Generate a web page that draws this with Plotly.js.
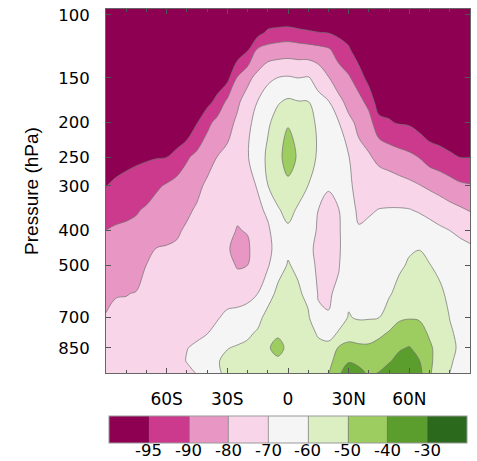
<!DOCTYPE html>
<html>
<head>
<meta charset="utf-8">
<script src="https://cdn.plot.ly/plotly-3.0.1.min.js"></script>
<style>html,body{margin:0;padding:0;background:#fff;}</style>
</head>
<body>
<div id="chart" style="width:477px;height:461px;"></div>
<script>
// Latitudes (deg, negative = S)
const lats = [-90,-85,-80,-75,-70,-65,-60,-55,-50,-45,-40,-35,-30,-25,-20,-15,-10,-5,0,5,10,15,20,25,30,35,40,45,50,55,60,65,70,75,80,85,90];
// Pressure levels (hPa)
const pressures = [100,112,125,150,175,200,250,300,350,400,450,500,600,700,775,850,925,1000];
// Vertical profiles, one per latitude (values at each pressure level above)
const profiles = [
 [-105,-104,-103,-101.4,-100,-98.8,-96.8,-95.1,-92.4,-89.9,-87.6,-85.6,-82,-79.5,-78.5,-77.6,-76.8,-76],
 [-105,-104,-103,-101.2,-99.8,-98.5,-96.4,-94.4,-91.5,-88.8,-86.4,-84.2,-80.3,-78.7,-77.8,-77,-76.2,-75.5],
 [-105,-104,-102.9,-101.1,-99.6,-98.3,-96.1,-93.8,-91,-88.4,-86,-83.9,-80.2,-78.5,-77.5,-76.6,-75.8,-75],
 [-105,-103.9,-102.8,-100.9,-99.4,-98,-95.8,-93.1,-90.4,-87.8,-85.4,-83.3,-79.7,-78.1,-77.2,-76.2,-75.3,-74.5],
 [-105,-103.8,-102.7,-100.8,-99.2,-97.8,-95.5,-92.2,-88.9,-85.4,-82.5,-79.9,-78.3,-77,-76.2,-75.4,-74.7,-74],
 [-105,-103.8,-102.7,-100.7,-99,-97.6,-95.2,-90.7,-86.4,-82.5,-79.8,-79,-77.5,-76.3,-75.5,-74.7,-74.1,-73.5],
 [-105,-103.8,-102.6,-100.6,-98.9,-97.4,-95,-89,-85.1,-81.6,-79.6,-78.7,-77.2,-75.9,-75.1,-74.3,-73.6,-73],
 [-104,-102.8,-101.7,-99.7,-99,-99.5,-93.5,-86.5,-83.9,-80.9,-79.1,-77.9,-75.8,-74,-72.8,-71.6,-71.5,-72],
 [-103,-101.9,-100.8,-99.5,-99.5,-99.5,-90.5,-85.1,-81.3,-79,-77.7,-76.6,-74.4,-72.7,-71.6,-70.1,-69.8,-71],
 [-103,-101.8,-100.6,-98.5,-96.7,-95.2,-87.4,-82,-79.1,-77.7,-76.5,-75.3,-73.3,-71.7,-70.6,-69.5,-68.8,-69.8],
 [-102,-100.7,-99.5,-97.4,-96.5,-91.3,-83.5,-78.5,-77.7,-76.4,-75.3,-74.3,-72.5,-71,-70.1,-68.6,-67.3,-66],
 [-101.3,-100,-98.8,-98,-93.6,-87,-79.8,-78.1,-76.7,-75.5,-74.5,-73.6,-71.9,-70.5,-68.2,-63.6,-60.5,-62],
 [-102,-100.3,-98.7,-96.5,-87.75,-82.5,-78.3,-76.3,-77.2,-78.1,-79,-76.75,-72.7,-68.6,-64.3,-60.3,-58.4,-57],
 [-101,-99.7,-98.5,-89,-81.3,-78.6,-75.7,-76.7,-78.6,-80.4,-83,-80.9,-73.9,-67.1,-62.9,-59.3,-57.6,-56],
 [-100.3,-97.8,-95.7,-82.2,-76.3,-72,-70.5,-73.6,-76.7,-79.5,-81.4,-80,-72.75,-65.9,-61.25,-58.5,-56.7,-55],
 [-99.5,-96.9,-88.75,-77.3,-69.7,-66.9,-65.5,-69.2,-72.25,-74.9,-75,-73.2,-70,-62.5,-59,-56.7,-54.8,-53],
 [-99,-94.1,-86.4,-71.7,-65.7,-61.4,-58,-60.1,-68.1,-71.6,-72.6,-71,-63.7,-57.1,-53.8,-50.5,-51.5,-53],
 [-99.5,-93.2,-85.5,-69.8,-60.8,-56.3,-52.1,-56.7,-60.6,-64.4,-66.3,-63.3,-58,-53.5,-50.7,-48.5,-50.8,-54],
 [-99.5,-92.85,-85,-69,-58.5,-50.5,-47,-51.5,-57.9,-61.1,-61.1,-59.5,-56.5,-54.1,-52.5,-51,-52.4,-54],
 [-100,-93.6,-85.5,-70,-59.6,-55.6,-50.8,-57,-60.8,-63,-63.1,-61.5,-58.8,-56.6,-55.3,-54,-54.5,-55],
 [-100,-94.3,-86,-69.3,-59.75,-57.1,-56.9,-60.1,-63.1,-65.7,-67.9,-66,-62.1,-58.9,-56.9,-55,-55,-55],
 [-100,-94.9,-87.1,-73.4,-67.3,-61.5,-61,-66.7,-70,-71.2,-72.2,-72,-70.6,-68.5,-61,-57.7,-55.3,-53],
 [-100,-95.2,-88.9,-79.5,-69.4,-67.2,-66.2,-69.6,-71.3,-72.7,-73.9,-73,-71.1,-69.5,-62.6,-57.8,-53.75,-50.5],
 [-100,-96.4,-91.9,-85.8,-76.9,-69.5,-64.5,-67.5,-70.2,-71,-71.35,-70.75,-68.1,-63,-59.3,-49.3,-45,-41],
 [-99,-97.5,-94.3,-88.8,-83.1,-77.6,-69.5,-67.7,-66.2,-65,-63.9,-63,-61.3,-59.6,-53.8,-47.4,-40.5,-37],
 [-100,-99.1,-98.2,-92.3,-87,-82.1,-77.3,-74.2,-71.6,-69.3,-67.4,-65.6,-62.8,-60.7,-55.9,-47.7,-41.8,-38],
 [-101,-99.6,-98.2,-97,-91.4,-86.3,-78.9,-74.5,-70.9,-68.3,-66.3,-64.6,-62.3,-60.6,-55.3,-48,-44.4,-41],
 [-102,-100.9,-99.8,-97.7,-98,-93.2,-82.3,-75,-69.8,-67.6,-65.7,-64,-61.9,-60.1,-51.9,-46.7,-43.1,-39.7],
 [-102,-101,-100,-98,-96.3,-94.7,-84.2,-75.4,-69.5,-67.1,-65.1,-63.7,-61.1,-55,-49.1,-44.7,-40.9,-36],
 [-103,-101.9,-100.8,-98.7,-96.8,-95.3,-86.2,-76.5,-69.4,-66.2,-63.5,-61.7,-56.7,-51.2,-46.4,-41.1,-37.3,-34],
 [-103,-102,-101,-99,-97,-95.6,-87.9,-77.8,-69.7,-64.1,-61.1,-58.8,-54.3,-50.5,-45.7,-39.5,-36.4,-33],
 [-103,-102,-101,-99.5,-97.6,-97,-90.1,-79.6,-71.1,-64.6,-60.2,-58,-54,-50.7,-47.3,-43.2,-39.8,-37],
 [-104,-103,-102,-100,-98,-98.5,-92.1,-81.7,-72.9,-66.5,-62.4,-59.7,-55.9,-52.8,-50.9,-48.9,-48.3,-49],
 [-104,-103,-102,-100.5,-98.5,-99,-93,-83.7,-74.9,-68.4,-64.2,-62.1,-58.3,-55,-53,-52.7,-53.9,-55],
 [-104,-103,-102,-100.5,-99,-99.5,-94.1,-86,-77,-70,-67.2,-64.8,-62.1,-60.2,-59,-58.2,-59,-60],
 [-104,-103.2,-102.5,-101,-99.5,-98,-95,-88.4,-78.7,-71.1,-68.4,-66.7,-63.8,-62.5,-61.7,-61.1,-62.1,-63],
 [-104,-103.2,-102.5,-101,-99.5,-98,-95,-89.3,-80.7,-72.4,-69,-67.8,-65.5,-64.8,-64.5,-64.3,-64.2,-64]
];
// Contour levels and colours
const levels = [-95,-90,-80,-70,-60,-50,-40,-30];
const levelLabels = ['-95','-90','-80','-70','-60','-50','-40','-30'];
const bandColors = ['#8e0152','#cb3a8c','#e897c4','#f9d5ea','#f5f5f5','#dcefc3','#9dcd60','#5b9e2e','#2b6a1d'];
const latTickVals = [-60,-30,0,30,60];
const latTickText = ['60S','30S','0','30N','60N'];
const presTickVals = [100,150,200,250,300,400,500,700,850];

// map value onto level index space (uneven levels -> evenly spaced contours)
function levelIndex(t){
  const n = levels.length;
  if (t <= levels[0]) return 1 + (t - levels[0]) / (levels[1]-levels[0]);
  if (t >= levels[n-1]) return n + (t - levels[n-1]) / (levels[n-1]-levels[n-2]);
  for (let i=0;i<n-1;i++){
    if (t < levels[i+1]) return 1 + i + (t-levels[i])/(levels[i+1]-levels[i]);
  }
  return n;
}
const z = pressures.map((p, j) => lats.map((la, i) => levelIndex(profiles[i][j])));

const colorscale = [];
bandColors.forEach((c,k)=>{
  colorscale.push([k/bandColors.length, c]);
  colorscale.push([(k+1)/bandColors.length, c]);
});

const TICKFONT = 'DejaVu Sans, Verdana, sans-serif';
const TITLEFONT = 'Liberation Sans, Arial, Helvetica, sans-serif';

// colorbar geometry (pixels) -> paper fractions for the level labels
const W = 477, H = 461, M = {l:106, r:7, t:9, b:88};
const plotW = W - M.l - M.r, plotH = H - M.t - M.b;
const cbLen = 358;
const cbLeftPx = M.l + plotW / 2 - cbLen / 2;
const nBands = bandColors.length;
const cbAnnotations = levelLabels.map((txt, i) => ({
  xref:'paper', yref:'paper',
  x: (cbLeftPx + cbLen * (i + 1) / nBands - M.l) / plotW,
  y: (M.t + plotH - 451) / plotH,
  xanchor:'center', yanchor:'middle', showarrow:false,
  text: txt, font:{size:16.5, family:TICKFONT, color:'#000'}
}));

const trace = {
  type:'contour', x: lats, y: pressures, z: z,
  autocontour:false,
  zauto:false, zmin:0, zmax:nBands,
  contours:{start:1, end:levels.length, size:1, coloring:'fill', showlines:true},
  line:{color:'#707070', width:0.7, smoothing:1},
  colorscale: colorscale,
  showscale:true,
  hoverinfo:'skip',
  colorbar:{
    orientation:'h', x:0.5, xanchor:'center', y:-0.117, yanchor:'top',
    len:cbLen, lenmode:'pixels', thickness:27, thicknessmode:'pixels',
    xpad:0, ypad:0, outlinewidth:1, outlinecolor:'#999',
    tickmode:'array', tickvals: levels.map((v,i)=>i+1), ticktext: levelLabels,
    ticks:'', showticklabels:false
  }
};

const layout = {
  width:W, height:H,
  margin:{l:M.l, r:M.r, t:M.t, b:M.b, pad:0, autoexpand:false},
  paper_bgcolor:'#ffffff', plot_bgcolor:'#8e0152',
  font:{family:TICKFONT, color:'#000'},
  showlegend:false,
  annotations: cbAnnotations,
  xaxis:{
    range:[-90,90], tickmode:'array', tickvals:latTickVals, ticktext:latTickText,
    ticks:'inside', ticklen:5, tickwidth:1, tickcolor:'#555',
    showline:true, linecolor:'#666', linewidth:1, mirror:'ticks',
    showgrid:false, zeroline:false, tickfont:{size:17, family:TICKFONT},
    ticklabelstandoff:11, automargin:false,
    minor:{tickmode:'linear', tick0:0, dtick:10, ticks:'inside', ticklen:3, tickcolor:'#555', showgrid:false}
  },
  yaxis:{
    type:'log', range:[Math.log10(1000), Math.log10(96.3)],
    tickmode:'array', tickvals:presTickVals, ticktext:presTickVals.map(String),
    ticks:'inside', ticklen:5, tickwidth:1, tickcolor:'#555',
    showline:true, linecolor:'#666', linewidth:1, mirror:'ticks',
    showgrid:false, zeroline:false, tickfont:{size:16.5, family:TICKFONT},
    ticklabelstandoff:12, automargin:false,
    title:{text:'Pressure (hPa)', font:{size:19, family:TITLEFONT}, standoff:14}
  }
};

Plotly.newPlot('chart', [trace], layout, {displayModeBar:false, staticPlot:true});
</script>
</body>
</html>
